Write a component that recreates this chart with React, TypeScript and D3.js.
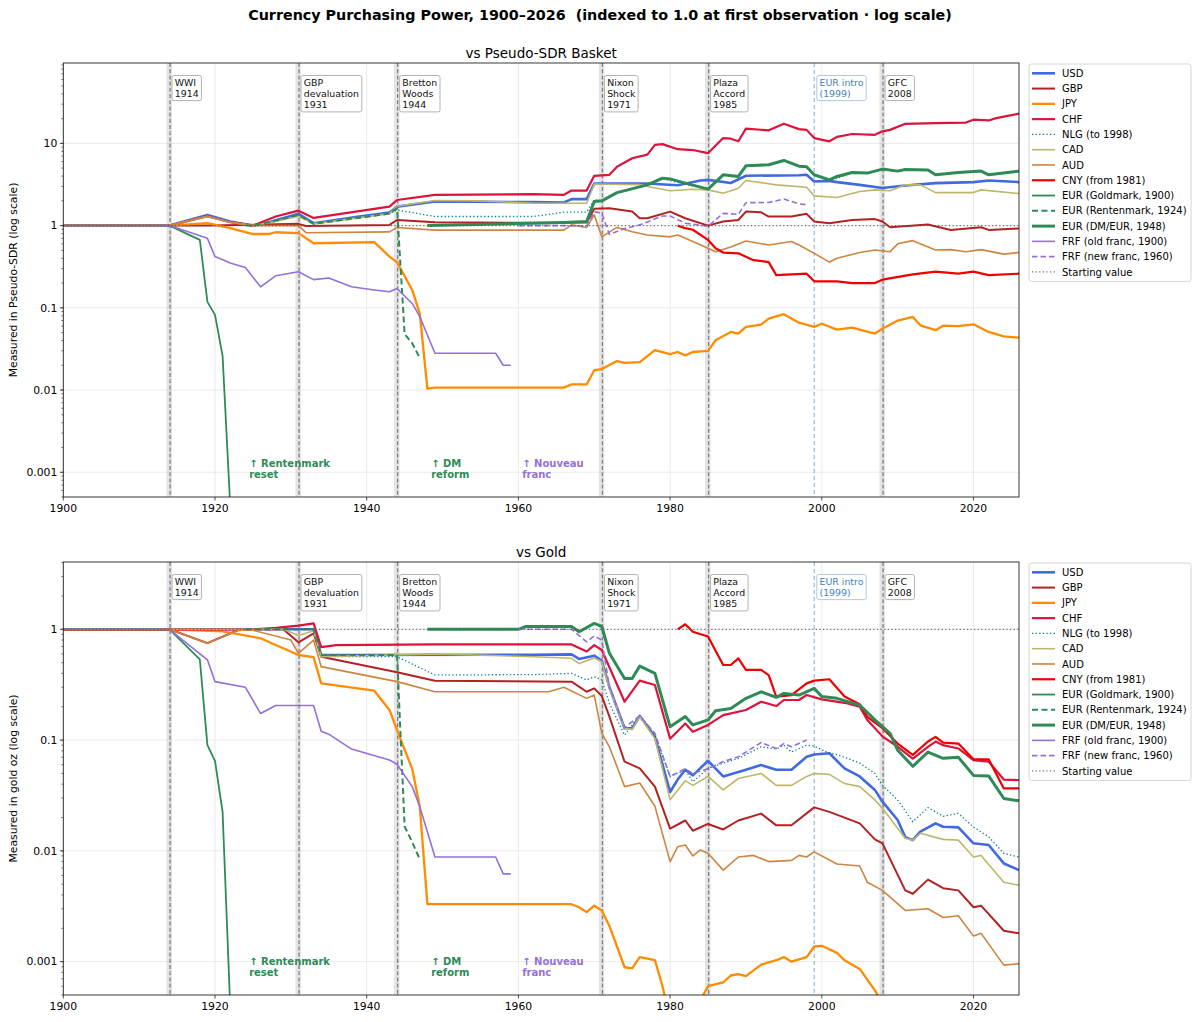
import * as d3 from 'd3';

type Pt = [number, number];

// ---------- vs Pseudo-SDR basket ----------
const sdrUSD: Pt[] = [[1900,1],[1914,1],[1919,1.35],[1922,1.12],[1925,1.0],[1927,1.09],[1931,1.39],[1933,1.07],[1939,1.29],[1943,1.44],[1944,1.7],[1949,1.96],[1962,1.93],[1966,1.91],[1967,2.1],[1969,2.1],[1970,3.25],[1977,3.25],[1981,3.1],[1984,3.54],[1985,3.6],[1988,3.3],[1990,4.04],[1997,4.1],[1998,4.15],[1999,3.44],[2001,3.5],[2002,3.38],[2005,3.13],[2008,2.86],[2011,3.08],[2015,3.29],[2020,3.38],[2022,3.54],[2026,3.38]];
const sdrGBP: Pt[] = [[1900,1],[1914,1],[1919,1.0],[1931,1.05],[1932,0.99],[1943,1.02],[1944,1.17],[1949,1.1],[1962,1.08],[1969,1.09],[1970,1.6],[1972,1.63],[1975,1.48],[1976,1.23],[1977,1.23],[1980,1.48],[1982,1.23],[1985,1.0],[1987,1.12],[1989,1.17],[1990,1.48],[1992,1.45],[1993,1.29],[1996,1.29],[1998,1.39],[1999,1.12],[2001,1.07],[2004,1.17],[2007,1.2],[2008,1.12],[2009,0.955],[2014,1.03],[2017,0.886],[2021,0.955],[2022,0.886],[2026,0.92]];
const sdrJPY: Pt[] = [[1900,1],[1914,1],[1919,1.07],[1922,0.93],[1925,0.79],[1927,0.79],[1928,0.83],[1931,0.81],[1933,0.61],[1941,0.63],[1943,0.42],[1944,0.36],[1946,0.165],[1947,0.085],[1948,0.0104],[1949,0.0107],[1966,0.0107],[1967,0.0117],[1969,0.0117],[1970,0.0174],[1971,0.018],[1973,0.0225],[1974,0.0214],[1976,0.0218],[1978,0.0305],[1980,0.0273],[1981,0.029],[1982,0.0264],[1983,0.029],[1985,0.03],[1986,0.0403],[1988,0.0509],[1989,0.0486],[1990,0.0586],[1992,0.0625],[1993,0.074],[1995,0.0837],[1997,0.0659],[1999,0.0586],[2000,0.064],[2002,0.0542],[2004,0.0575],[2007,0.0486],[2008,0.0557],[2010,0.07],[2012,0.0775],[2013,0.0612],[2015,0.0534],[2016,0.0606],[2018,0.06],[2020,0.063],[2022,0.0509],[2024,0.045],[2026,0.0434]];
const sdrCHF: Pt[] = [[1900,1],[1914,1],[1919,1.3],[1922,1.1],[1925,1.0],[1928,1.29],[1931,1.52],[1933,1.24],[1943,1.7],[1944,2.05],[1949,2.37],[1962,2.41],[1966,2.37],[1967,2.67],[1969,2.67],[1970,4.03],[1972,4.15],[1973,5.2],[1975,6.6],[1977,7.3],[1978,9.6],[1979,9.8],[1981,8.5],[1983,8.3],[1985,7.6],[1987,11.6],[1988,11.4],[1989,10.6],[1990,15.1],[1993,14.4],[1995,17.3],[1997,14.9],[1998,14.6],[1999,11.6],[2001,10.6],[2002,12.0],[2004,13.0],[2007,12.7],[2008,14.0],[2009,14.6],[2011,17.3],[2015,17.6],[2019,17.9],[2020,19.4],[2022,19.0],[2023,20.3],[2026,23]];
const sdrNLG: Pt[] = [[1900,1],[1914,1],[1919,1.3],[1922,1.1],[1925,1.0],[1928,1.12],[1931,1.33],[1933,1.05],[1943,1.4],[1944,1.55],[1949,1.29],[1962,1.29],[1966,1.46],[1969,1.46],[1970,2.06],[1971,2.0],[1973,2.5],[1977,3.1],[1979,3.7],[1982,3.2],[1985,2.75],[1987,4.1],[1989,3.9],[1990,5.3],[1993,5.4],[1995,6.1],[1997,5.2],[1998,5.1],[1999,4.1],[2001,3.55],[2002,3.75],[2004,4.4],[2006,4.3],[2008,4.8],[2010,4.55],[2011,4.75],[2014,4.7],[2015,4.1],[2018,4.4],[2021,4.55],[2022,4.1],[2026,4.55]];
const sdrCAD: Pt[] = [[1900,1],[1914,1],[1919,1.3],[1922,1.1],[1925,1.0],[1928,1.12],[1931,1.3],[1933,1.05],[1943,1.4],[1944,1.72],[1949,2.02],[1955,2.0],[1962,1.87],[1969,1.87],[1970,3.2],[1976,3.15],[1977,2.99],[1980,2.65],[1983,2.77],[1985,2.72],[1987,2.48],[1989,2.85],[1990,3.54],[1994,3.13],[1998,2.93],[1999,2.3],[2002,2.2],[2005,2.6],[2007,2.72],[2009,2.65],[2011,3.13],[2013,3.13],[2015,2.52],[2020,2.52],[2021,2.72],[2026,2.45]];
const sdrAUD: Pt[] = [[1900,1],[1914,1],[1919,1.29],[1922,1.1],[1925,1.0],[1931,1.0],[1932,0.82],[1943,0.84],[1944,0.95],[1949,0.88],[1966,0.88],[1967,1.02],[1969,0.95],[1970,1.35],[1971,0.73],[1973,0.95],[1975,0.84],[1977,0.77],[1980,0.73],[1981,0.77],[1983,0.64],[1985,0.53],[1986,0.48],[1988,0.55],[1990,0.65],[1993,0.58],[1996,0.64],[1997,0.58],[1999,0.46],[2001,0.36],[2002,0.4],[2005,0.47],[2007,0.505],[2009,0.48],[2010,0.6],[2012,0.656],[2015,0.505],[2017,0.51],[2019,0.48],[2021,0.51],[2024,0.45],[2026,0.47]];
const sdrCNY: Pt[] = [[1981,1.0],[1982,0.93],[1983,0.89],[1985,0.67],[1986,0.53],[1987,0.47],[1989,0.46],[1991,0.38],[1993,0.36],[1994,0.25],[1998,0.26],[1999,0.21],[2002,0.21],[2004,0.2],[2007,0.2],[2008,0.22],[2012,0.255],[2015,0.275],[2018,0.26],[2020,0.275],[2022,0.25],[2026,0.26]];
const sdrEURGoldmark: Pt[] = [[1900,1],[1914,1],[1918,0.67],[1919,0.118],[1920,0.082],[1921,0.026],[1922,0.0004],[1923,1e-9]];
const sdrEURRentenmark: Pt[] = [[1924,1.0],[1925,1.0],[1928,1.15],[1931,1.35],[1933,1.05],[1943,1.4],[1944,1.62],[1945,0.048],[1946,0.037],[1947,0.0245]];
const sdrEURDM: Pt[] = [[1948,1.0],[1962,1.07],[1966,1.09],[1969,1.12],[1970,1.96],[1971,2.0],[1973,2.52],[1977,3.13],[1979,3.78],[1980,3.7],[1982,3.29],[1985,2.78],[1987,4.15],[1989,3.96],[1990,5.34],[1993,5.5],[1995,6.2],[1997,5.28],[1998,5.2],[1999,4.15],[2001,3.6],[2002,3.96],[2004,4.43],[2006,4.35],[2008,4.87],[2010,4.6],[2011,4.8],[2014,4.75],[2015,4.15],[2018,4.43],[2021,4.6],[2022,4.15],[2026,4.6]];
const sdrFRFOld: Pt[] = [[1900,1],[1914,1],[1919,0.7],[1920,0.42],[1922,0.35],[1924,0.31],[1926,0.18],[1928,0.245],[1931,0.275],[1933,0.22],[1935,0.23],[1938,0.18],[1941,0.165],[1943,0.157],[1944,0.172],[1946,0.113],[1947,0.078],[1949,0.028],[1957,0.028],[1958,0.02],[1959,0.02]];
const sdrFRFNew: Pt[] = [[1960,1.0],[1966,1.0],[1969,0.98],[1970,1.48],[1971,1.41],[1972,0.78],[1974,0.92],[1976,1.02],[1979,1.31],[1980,1.31],[1982,1.07],[1985,0.98],[1987,1.41],[1989,1.37],[1990,1.9],[1993,1.91],[1995,2.1],[1997,1.84],[1998,1.79]];

// ---------- vs Gold ----------
const goldUSD: Pt[] = [[1900,1],[1933,1],[1934,0.586],[1962,0.59],[1967,0.594],[1968,0.54],[1970,0.578],[1971,0.52],[1972,0.3],[1974,0.128],[1975,0.128],[1976,0.165],[1978,0.107],[1980,0.034],[1981,0.044],[1982,0.054],[1983,0.048],[1985,0.065],[1987,0.047],[1990,0.054],[1992,0.0595],[1994,0.054],[1996,0.054],[1998,0.0706],[1999,0.074],[2001,0.076],[2003,0.0555],[2005,0.047],[2007,0.0355],[2008,0.0278],[2010,0.019],[2011,0.0133],[2012,0.0125],[2013,0.0149],[2015,0.0177],[2016,0.0165],[2018,0.0163],[2020,0.0117],[2022,0.0113],[2024,0.0077],[2026,0.0067]];
const goldGBP: Pt[] = [[1900,1],[1914,1],[1919,0.75],[1923,0.98],[1925,1.0],[1929,1.0],[1931,0.763],[1933,0.92],[1934,0.565],[1944,0.41],[1949,0.343],[1967,0.337],[1969,0.273],[1970,0.293],[1971,0.25],[1972,0.163],[1974,0.0638],[1976,0.0555],[1978,0.038],[1980,0.0159],[1982,0.0188],[1983,0.0152],[1985,0.0175],[1987,0.0156],[1989,0.0188],[1992,0.0217],[1994,0.017],[1996,0.017],[1999,0.0247],[2001,0.0225],[2005,0.0177],[2007,0.0127],[2008,0.0117],[2011,0.0044],[2012,0.0041],[2014,0.0055],[2016,0.0046],[2018,0.0044],[2020,0.0031],[2021,0.0032],[2024,0.0019],[2026,0.0018]];
const goldJPY: Pt[] = [[1900,1],[1914,1],[1921,0.96],[1926,0.83],[1931,0.586],[1933,0.56],[1934,0.325],[1941,0.279],[1943,0.187],[1944,0.123],[1946,0.055],[1947,0.025],[1948,0.0033],[1967,0.0033],[1968,0.0031],[1969,0.0028],[1970,0.0032],[1971,0.0029],[1972,0.0021],[1974,0.00089],[1975,0.00087],[1976,0.0011],[1978,0.00103],[1979,0.0006],[1980,0.0003],[1982,0.00033],[1984,0.00045],[1985,0.0006],[1987,0.00065],[1988,0.00075],[1989,0.00077],[1990,0.00074],[1992,0.00094],[1994,0.00103],[1995,0.0011],[1996,0.001],[1998,0.0011],[1999,0.00137],[2000,0.00139],[2002,0.0012],[2003,0.00103],[2005,0.00086],[2007,0.00055],[2008,0.00042],[2012,0.0003],[2016,0.00032],[2020,0.00028],[2026,0.0002]];
const goldCHF: Pt[] = [[1900,1],[1925,1],[1928,1.03],[1931,1.08],[1933,1.13],[1934,0.69],[1936,0.72],[1949,0.73],[1967,0.73],[1969,0.63],[1970,0.72],[1971,0.65],[1974,0.222],[1976,0.344],[1978,0.314],[1980,0.103],[1982,0.141],[1983,0.119],[1985,0.137],[1987,0.168],[1990,0.187],[1992,0.222],[1994,0.203],[1995,0.23],[1997,0.23],[1998,0.255],[2000,0.233],[2003,0.217],[2005,0.2],[2006,0.152],[2008,0.108],[2010,0.087],[2012,0.068],[2014,0.087],[2015,0.097],[2016,0.09],[2018,0.084],[2020,0.066],[2022,0.064],[2024,0.044],[2026,0.0435]];
const goldNLG: Pt[] = [[1900,1],[1933,1],[1934,0.566],[1944,0.566],[1949,0.387],[1962,0.39],[1967,0.4],[1969,0.35],[1970,0.373],[1971,0.35],[1972,0.214],[1974,0.111],[1976,0.168],[1978,0.111],[1980,0.0467],[1982,0.054],[1983,0.042],[1985,0.0555],[1987,0.062],[1989,0.0682],[1992,0.0872],[1994,0.083],[1995,0.09],[1996,0.078],[1998,0.09],[1999,0.088],[2001,0.076],[2002,0.074],[2005,0.062],[2007,0.05],[2008,0.039],[2010,0.0288],[2012,0.0183],[2014,0.0246],[2016,0.0205],[2018,0.0218],[2020,0.0164],[2022,0.0134],[2024,0.0095],[2026,0.0088]];
const goldCAD: Pt[] = [[1900,1],[1929,1],[1931,0.88],[1933,0.97],[1934,0.565],[1949,0.6],[1962,0.566],[1967,0.547],[1968,0.49],[1970,0.55],[1971,0.51],[1972,0.29],[1974,0.128],[1975,0.125],[1976,0.163],[1978,0.103],[1980,0.029],[1982,0.043],[1983,0.039],[1985,0.047],[1987,0.0355],[1989,0.045],[1992,0.05],[1994,0.039],[1996,0.039],[1998,0.047],[1999,0.05],[2001,0.049],[2003,0.0405],[2005,0.038],[2007,0.0288],[2008,0.0242],[2011,0.013],[2012,0.0125],[2013,0.0144],[2016,0.0127],[2018,0.0125],[2020,0.0088],[2021,0.0091],[2024,0.0052],[2026,0.0049]];
const goldAUD: Pt[] = [[1900,1],[1914,1],[1919,0.747],[1923,0.98],[1925,0.98],[1930,0.8],[1931,0.607],[1933,0.8],[1934,0.46],[1944,0.337],[1949,0.273],[1964,0.273],[1966,0.3],[1969,0.238],[1970,0.255],[1971,0.115],[1972,0.087],[1974,0.038],[1976,0.041],[1978,0.0253],[1980,0.008],[1981,0.0109],[1982,0.0113],[1983,0.009],[1984,0.0102],[1985,0.0095],[1987,0.0067],[1989,0.0088],[1991,0.0091],[1993,0.008],[1996,0.0082],[1997,0.0091],[1998,0.0088],[1999,0.0098],[2002,0.0076],[2005,0.0073],[2006,0.0052],[2008,0.0044],[2011,0.0029],[2014,0.003],[2016,0.0025],[2018,0.0026],[2020,0.0017],[2021,0.0018],[2024,0.00093],[2026,0.00096]];
const goldCNY: Pt[] = [[1981,1.0],[1982,1.11],[1983,0.95],[1985,0.86],[1987,0.476],[1988,0.476],[1989,0.547],[1990,0.43],[1992,0.43],[1993,0.386],[1994,0.246],[1996,0.255],[1998,0.325],[1999,0.344],[2001,0.354],[2003,0.247],[2005,0.211],[2006,0.162],[2008,0.128],[2010,0.093],[2012,0.0735],[2014,0.097],[2015,0.107],[2016,0.095],[2018,0.093],[2020,0.067],[2022,0.067],[2024,0.0366],[2026,0.0366]];
const goldEURGoldmark: Pt[] = [[1900,1],[1914,1],[1918,0.535],[1919,0.09],[1920,0.065],[1921,0.0225],[1922,0.0004],[1923,1e-9]];
const goldEURRentenmark: Pt[] = [[1924,1.0],[1933,1.0],[1934,0.586],[1944,0.586],[1945,0.0166],[1946,0.012],[1947,0.0084]];
const goldEURDM: Pt[] = [[1948,1.0],[1960,1.0],[1961,1.06],[1967,1.06],[1968,0.95],[1970,1.13],[1971,1.06],[1972,0.607],[1974,0.36],[1975,0.36],[1976,0.466],[1978,0.4],[1980,0.132],[1982,0.163],[1983,0.137],[1985,0.152],[1986,0.184],[1988,0.193],[1990,0.238],[1992,0.273],[1994,0.243],[1995,0.264],[1997,0.255],[1999,0.293],[2000,0.247],[2002,0.238],[2005,0.207],[2007,0.152],[2009,0.115],[2010,0.081],[2012,0.058],[2014,0.078],[2016,0.0685],[2018,0.07],[2020,0.048],[2022,0.0475],[2024,0.0297],[2026,0.0283]];
const goldFRFOld: Pt[] = [[1900,1],[1914,1],[1919,0.53],[1920,0.337],[1924,0.3],[1926,0.174],[1928,0.205],[1933,0.205],[1934,0.12],[1935,0.113],[1938,0.083],[1943,0.066],[1944,0.0606],[1946,0.038],[1947,0.025],[1949,0.0088],[1957,0.0088],[1958,0.0062],[1959,0.0062]];
const goldFRFNew: Pt[] = [[1960,1.0],[1967,1.0],[1969,0.77],[1970,0.87],[1971,0.8],[1972,0.3],[1974,0.13],[1976,0.165],[1978,0.115],[1980,0.047],[1982,0.055],[1983,0.05],[1985,0.055],[1987,0.064],[1989,0.0706],[1992,0.095],[1994,0.084],[1995,0.093],[1996,0.087],[1998,0.1]];

const SERIES_LABELS = ['USD', 'GBP', 'JPY', 'CHF', 'NLG (to 1998)', 'CAD', 'AUD', 'CNY (from 1981)',
  'EUR (Goldmark, 1900)', 'EUR (Rentenmark, 1924)', 'EUR (DM/EUR, 1948)', 'FRF (old franc, 1900)', 'FRF (new franc, 1960)'];
const SDR_SERIES = [sdrUSD, sdrGBP, sdrJPY, sdrCHF, sdrNLG, sdrCAD, sdrAUD, sdrCNY,
  sdrEURGoldmark, sdrEURRentenmark, sdrEURDM, sdrFRFOld, sdrFRFNew];
const GOLD_SERIES = [goldUSD, goldGBP, goldJPY, goldCHF, goldNLG, goldCAD, goldAUD, goldCNY,
  goldEURGoldmark, goldEURRentenmark, goldEURDM, goldFRFOld, goldFRFNew];

const STYLES = [
  { color: '#4169e1', width: 2.6, dash: '' },
  { color: '#b22222', width: 2.0, dash: '' },
  { color: '#ff8c00', width: 2.3, dash: '' },
  { color: '#dc143c', width: 2.2, dash: '' },
  { color: '#00808a', width: 1.3, dash: '1.3,2.3' },
  { color: '#bdb76b', width: 1.6, dash: '' },
  { color: '#cd853f', width: 1.6, dash: '' },
  { color: '#ee0000', width: 2.2, dash: '' },
  { color: '#2e8b57', width: 1.8, dash: '' },
  { color: '#2e8b57', width: 2.0, dash: '6,3.5' },
  { color: '#2e8b57', width: 3.0, dash: '' },
  { color: '#9370db', width: 1.6, dash: '' },
  { color: '#9370db', width: 1.6, dash: '5.5,3' },
];

const EVENT_YEARS = [1914, 1931, 1944, 1971, 1985, 2008];
const EVENT_LABELS = [['WWI', '1914'], ['GBP', 'devaluation', '1931'], ['Bretton', 'Woods', '1944'],
  ['Nixon', 'Shock', '1971'], ['Plaza', 'Accord', '1985'], ['GFC', '2008']];
const EUR_INTRO_YEAR = 1999;
const EUR_INTRO_LABEL = ['EUR intro', '(1999)'];

const NOTE_YEARS = [1924.5, 1948.5, 1960.5];
const NOTE_LABELS = [['↑ Rentenmark', 'reset'], ['↑ DM', 'reform'], ['↑ Nouveau', 'franc']];
const NOTE_COLORS = ['#2e8b57', '#2e8b57', '#9370db'];

const X_TICKS = [1900, 1920, 1940, 1960, 1980, 2000, 2020];
const SDR_TICKS = [0.001, 0.01, 0.1, 1, 10];
const SDR_TICK_LABELS = ['0.001', '0.01', '0.1', '1', '10'];
const GOLD_TICKS = [0.001, 0.01, 0.1, 1];
const GOLD_TICK_LABELS = ['0.001', '0.01', '0.1', '1'];

const W = 1200, H = 1022;
const L = 63.3, R = 1019;
const FONT = 'DejaVu Sans, Verdana, sans-serif';

let ctx: CanvasRenderingContext2D | null = null;
function textWidth(s: string, font: string) {
  if (!ctx) ctx = document.createElement('canvas').getContext('2d');
  if (!ctx) return s.length * 5.5;
  ctx.font = font;
  return ctx.measureText(s).width;
}

const x = d3.scaleLinear().domain([1900, 2026]).range([L, R]);

interface PanelProps {
  id: string; top: number; bottom: number; yMax: number; title: string; ylabel: string;
  series: Pt[][]; ticks: number[]; tickLabels: string[];
}

function Panel({ id, top, bottom, yMax, title, ylabel, series, ticks, tickLabels }: PanelProps) {
  const y = d3.scaleLog().domain([0.0005, yMax]).range([bottom, top]);
  const line = d3.line<Pt>().x(d => x(d[0])).y(d => y(d[1]));

  const minor: number[] = [];
  for (let k = -4; k <= 2; k++) for (let m = 1; m <= 9; m++) {
    const v = m * Math.pow(10, k);
    if (v >= 0.0005 && v <= yMax) minor.push(v);
  }

  const labelFont = `9.4px ${FONT}`;
  const boxTop = top + 12.5;
  const lineH = 11.3;

  const drawBox = (key: string, xl: number, lines: string[], color: string, edge: string) => {
    const w = Math.max(...lines.map(s => textWidth(s, labelFont))) + 5.5;
    const h = lines.length * lineH + 2.5;
    return (
      <g key={key}>
        <rect x={xl} y={boxTop} width={w} height={h} rx={2} fill="#fff" fillOpacity={0.9} stroke={edge} strokeWidth={0.9} />
        {lines.map((s, i) => (
          <text key={i} x={xl + 2.7} y={boxTop + 10 + i * lineH} fontSize={9.4} fill={color}>{s}</text>
        ))}
      </g>
    );
  };

  const legendTop = top + 1;
  const rowH = 15.28;
  const legendRows = SERIES_LABELS.length + 1;

  return (
    <g>
      <defs>
        <clipPath id={`clip-${id}`}>
          <rect x={L} y={top} width={R - L} height={bottom - top} />
        </clipPath>
      </defs>
      <text x={(L + R) / 2} y={top - 5.5} textAnchor="middle" fontSize={13.5}>{title}</text>

      {/* grid */}
      {X_TICKS.map(t => (
        <line key={`gx${t}`} x1={x(t)} x2={x(t)} y1={top} y2={bottom} stroke="#e4e4e4" strokeWidth={0.8} />
      ))}
      {ticks.map(t => (
        <line key={`gy${t}`} x1={L} x2={R} y1={y(t)} y2={y(t)} stroke="#e4e4e4" strokeWidth={0.8} />
      ))}

      {/* events */}
      {EVENT_YEARS.map(yr => (
        <g key={`ev${yr}`}>
          <rect x={x(yr) - 3} y={top} width={5.5} height={bottom - top} fill="#bbbbbb" opacity={0.4} />
          <line x1={x(yr) + 0.6} x2={x(yr) + 0.6} y1={top} y2={bottom} stroke="#808080" strokeWidth={1.3} strokeDasharray="4,2.2" />
        </g>
      ))}
      <line x1={x(EUR_INTRO_YEAR)} x2={x(EUR_INTRO_YEAR)} y1={top} y2={bottom} stroke="#4682b4" strokeWidth={0.9} strokeDasharray="4,3" opacity={0.75} />

      {/* series */}
      <g clipPath={`url(#clip-${id})`}>
        {series.map((s, i) => (
          <path key={i} d={line(s) ?? ''} fill="none" stroke={STYLES[i].color} strokeWidth={STYLES[i].width}
            strokeDasharray={STYLES[i].dash || undefined} strokeLinejoin="round" />
        ))}
        <line x1={L} x2={R} y1={y(1)} y2={y(1)} stroke="#555" strokeWidth={1.2} strokeDasharray="1.2,2.4" opacity={0.85} />
      </g>

      {/* event labels */}
      {EVENT_YEARS.map((yr, i) => drawBox(`lb${yr}`, x(yr) + 2.6, EVENT_LABELS[i], '#111', '#aaaaaa'))}
      {drawBox('eur', x(EUR_INTRO_YEAR) + 2.6, EUR_INTRO_LABEL, '#4682b4', '#a9c3da')}

      {/* notes */}
      {NOTE_YEARS.map((yr, i) => (
        <text key={`n${i}`} x={x(yr)} y={bottom - 30.5} fontSize={10} fontWeight="bold" fill={NOTE_COLORS[i]}>
          <tspan x={x(yr)}>{NOTE_LABELS[i][0]}</tspan>
          <tspan x={x(yr)} dy={11.7}>{NOTE_LABELS[i][1]}</tspan>
        </text>
      ))}

      {/* frame */}
      <rect x={L} y={top} width={R - L} height={bottom - top} fill="none" stroke="#222" strokeWidth={0.9} />

      {/* axes */}
      {X_TICKS.map(t => (
        <g key={`xt${t}`}>
          <line x1={x(t)} x2={x(t)} y1={bottom} y2={bottom + 3.5} stroke="#222" strokeWidth={0.8} />
          <text x={x(t)} y={bottom + 15} textAnchor="middle" fontSize={10.8}>{t}</text>
        </g>
      ))}
      {minor.map(v => (
        <line key={`mt${v}`} x1={L - 2} x2={L} y1={y(v)} y2={y(v)} stroke="#222" strokeWidth={0.6} />
      ))}
      {ticks.map((t, i) => (
        <g key={`yt${t}`}>
          <line x1={L - 3.5} x2={L} y1={y(t)} y2={y(t)} stroke="#222" strokeWidth={0.8} />
          <text x={L - 6} y={y(t) + 3.8} textAnchor="end" fontSize={10.8}>{tickLabels[i]}</text>
        </g>
      ))}
      <text transform={`translate(16.5,${(top + bottom) / 2}) rotate(-90)`} textAnchor="middle" fontSize={10.8}>{ylabel}</text>

      {/* legend */}
      <rect x={1029} y={legendTop} width={162} height={legendRows * rowH + 3.5} rx={2.5} fill="#fff" stroke="#d0d0d0" strokeWidth={0.9} />
      {SERIES_LABELS.map((lab, i) => {
        const cy = legendTop + 9.3 + i * rowH;
        return (
          <g key={`lg${i}`}>
            <line x1={1032} x2={1055} y1={cy} y2={cy} stroke={STYLES[i].color} strokeWidth={STYLES[i].width}
              strokeDasharray={STYLES[i].dash || undefined} />
            <text x={1062} y={cy + 3.6} fontSize={10}>{lab}</text>
          </g>
        );
      })}
      {(() => {
        const cy = legendTop + 9.3 + SERIES_LABELS.length * rowH;
        return (
          <g>
            <line x1={1032} x2={1055} y1={cy} y2={cy} stroke="#555" strokeWidth={1.2} strokeDasharray="1.2,2.4" opacity={0.85} />
            <text x={1062} y={cy + 3.6} fontSize={10}>Starting value</text>
          </g>
        );
      })()}
    </g>
  );
}

export default function App() {
  return (
    <div style={{ position: 'absolute', left: 0, top: 0, background: '#fff' }}>
      <svg width={W} height={H} viewBox={`0 0 ${W} ${H}`} style={{ display: 'block', fontFamily: FONT }}>
        <rect width={W} height={H} fill="#fff" />
        <text x={W / 2} y={20} textAnchor="middle" fontSize={14.3} fontWeight="bold">
          Currency Purchasing Power, 1900–2026{'\u00a0\u00a0'}(indexed to 1.0 at first observation · log scale)
        </text>
        <Panel id="sdr" top={63} bottom={497} yMax={95} title="vs Pseudo-SDR Basket"
          ylabel="Measured in Pseudo-SDR (log scale)" series={SDR_SERIES} ticks={SDR_TICKS} tickLabels={SDR_TICK_LABELS} />
        <Panel id="gold" top={562} bottom={995} yMax={4.05} title="vs Gold"
          ylabel="Measured in gold oz (log scale)" series={GOLD_SERIES} ticks={GOLD_TICKS} tickLabels={GOLD_TICK_LABELS} />
      </svg>
    </div>
  );
}
